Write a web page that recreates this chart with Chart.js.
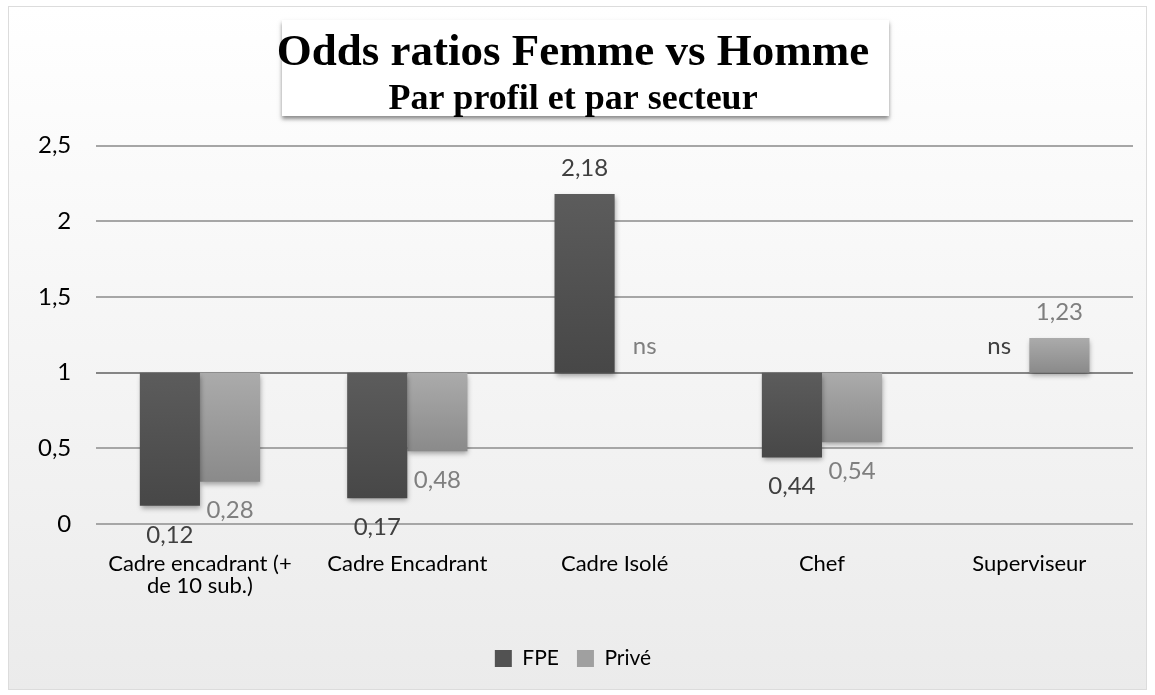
<!DOCTYPE html>
<html>
<head>
<meta charset="utf-8">
<script src="https://cdn.jsdelivr.net/npm/chart.js@4"></script>
<style>
  html, body { margin: 0; padding: 0; background: #fff; }
  #wrap { width: 1155px; height: 695px; }
</style>
</head>
<body>
<div id="wrap"><canvas id="graph"></canvas></div>
<script>
// donnees du graphique
var profils = [["Cadre encadrant (+", "de 10 sub.)"], "Cadre Encadrant", "Cadre Isolé", "Chef", "Superviseur"];
var fpe = [0.12, 0.17, 2.18, 0.44, null];
var prive = [0.28, 0.48, null, 0.54, 1.23];
var base = 1; // les barres partent de 1 (odds ratio)
var yTicks = [0, 0.5, 1, 1.5, 2, 2.5];

var police = "Lato, 'Open Sans', sans-serif";

function fmt(v) { return String(v).replace('.', ','); }

// barres flottantes [1, valeur]
function flottant(arr) {
  return arr.map(function (v) { return v === null ? null : [base, v]; });
}

function degrade(haut, bas) {
  return function (c) {
    var chart = c.chart, y = chart.scales && chart.scales.y;
    var raw = c.raw;
    if (!y || !raw || !chart.chartArea) return bas;
    var y1 = y.getPixelForValue(Math.max(raw[0], raw[1]));
    var y2 = y.getPixelForValue(Math.min(raw[0], raw[1]));
    if (!isFinite(y1) || !isFinite(y2) || y1 === y2) return bas;
    var g = chart.ctx.createLinearGradient(0, y1, 0, y2);
    g.addColorStop(0, haut);
    g.addColorStop(1, bas);
    return g;
  };
}

// fond degrade + cadre
var fond = {
  id: 'fond',
  beforeDraw: function (chart) {
    var ctx = chart.ctx;
    ctx.save();
    ctx.fillStyle = '#ffffff';
    ctx.fillRect(0, 0, chart.width, chart.height);
    var g = ctx.createLinearGradient(0, 6, 0, 690);
    g.addColorStop(0, '#ffffff');
    g.addColorStop(1, '#ebebeb');
    ctx.fillStyle = g;
    ctx.fillRect(8, 6, 1139, 684);
    ctx.strokeStyle = '#dcdcdc';
    ctx.lineWidth = 1;
    ctx.strokeRect(8.5, 6.5, 1138, 683);
    // boite blanche du titre
    ctx.shadowColor = 'rgba(0,0,0,0.45)';
    ctx.shadowBlur = 4;
    ctx.shadowOffsetY = 3;
    ctx.fillStyle = '#ffffff';
    ctx.fillRect(282, 20, 607, 96);
    ctx.restore();
  }
};

// ombre des barres
var ombre = {
  id: 'ombre',
  beforeDatasetsDraw: function (chart) {
    var ctx = chart.ctx;
    ctx.save();
    ctx.shadowColor = 'rgba(0,0,0,0.35)';
    ctx.shadowBlur = 5;
    ctx.shadowOffsetX = 1;
    ctx.shadowOffsetY = 3;
  },
  afterDatasetsDraw: function (chart) {
    chart.ctx.restore();
  }
};

// etiquettes des valeurs (ou "ns")
var etiquettes = {
  id: 'etiquettes',
  afterDatasetsDraw: function (chart) {
    var ctx = chart.ctx, y = chart.scales.y, x = chart.scales.x;
    var series = [fpe, prive];
    var couleurs = ['#404040', '#7f7f7f'];
    ctx.save();
    ctx.font = '24px ' + police;
    ctx.textAlign = 'center';
    ctx.textBaseline = 'middle';
    series.forEach(function (vals, di) {
      var meta = chart.getDatasetMeta(di);
      vals.forEach(function (v, i) {
        var bar = meta.data[i];
        var cx;
        if (bar && v !== null) cx = bar.x;
        else {
          var w = (x.getPixelForValue(1) - x.getPixelForValue(0)) * 0.58 / 2;
          cx = x.getPixelForValue(i) + (di === 0 ? -w / 2 : w / 2);
        }
        var txt = v === null ? 'ns' : fmt(v);
        var val = v === null ? base : v;
        var py = y.getPixelForValue(val);
        var cy = (v !== null && v < base) ? py + 29 : py - 26;
        ctx.fillStyle = couleurs[di];
        ctx.fillText(txt, cx, cy);
      });
    });
    ctx.restore();
  }
};

new Chart('graph', {
  type: 'bar',
  data: {
    labels: profils,
    datasets: [{
      label: 'FPE',
      data: flottant(fpe),
      backgroundColor: degrade('#5c5c5c', '#474747')
    }, {
      label: 'Privé',
      data: flottant(prive),
      backgroundColor: degrade('#ababab', '#8a8a8a')
    }]
  },
  options: {
    responsive: true,
    maintainAspectRatio: false,
    animation: false,
    layout: { padding: { top: 29, left: 13, right: 22, bottom: 16 } },
    categoryPercentage: 0.58,
    barPercentage: 1,
    plugins: {
      title: {
        display: true,
        text: 'Odds ratios Femme vs Homme',
        color: '#000',
        font: { family: "'Liberation Serif', serif", size: 45, weight: 'bold', lineHeight: 1.1 },
        padding: { top: 0, bottom: 0 }
      },
      subtitle: {
        display: true,
        text: 'Par profil et par secteur',
        color: '#000',
        font: { family: "'Liberation Serif', serif", size: 36, weight: 'bold' },
        padding: { top: 0, bottom: 24 }
      },
      legend: {
        position: 'bottom',
        labels: {
          color: '#000',
          font: { family: police, size: 21 },
          boxWidth: 17,
          boxHeight: 17,
          padding: 18,
          generateLabels: function () {
            return [
              { text: 'FPE', fillStyle: '#525252', strokeStyle: '#525252', lineWidth: 0, datasetIndex: 0 },
              { text: 'Privé', fillStyle: '#a0a0a0', strokeStyle: '#a0a0a0', lineWidth: 0, datasetIndex: 1 }
            ];
          }
        }
      },
      tooltip: { enabled: false }
    },
    scales: {
      x: {
        grid: { display: false },
        border: { display: false },
        afterFit: function (s) { s.height += 12; },
        ticks: {
          color: '#000',
          font: { family: police, size: 22, lineHeight: 1.0 },
          maxRotation: 0,
          autoSkip: false,
          padding: 21
        }
      },
      y: {
        min: 0,
        max: 2.5,
        afterBuildTicks: function (s) {
          s.ticks = yTicks.map(function (v) { return { value: v }; });
        },
        grid: {
          color: function (c) { return c.tick && c.tick.value === 1 ? '#858585' : '#a6a6a6'; },
          lineWidth: 2,
          drawTicks: false
        },
        border: { display: false },
        ticks: {
          color: '#000',
          font: { family: police, size: 24 },
          padding: 25,
          callback: function (v) { return fmt(v); }
        }
      }
    }
  },
  plugins: [fond, ombre, etiquettes]
});
</script>
</body>
</html>
